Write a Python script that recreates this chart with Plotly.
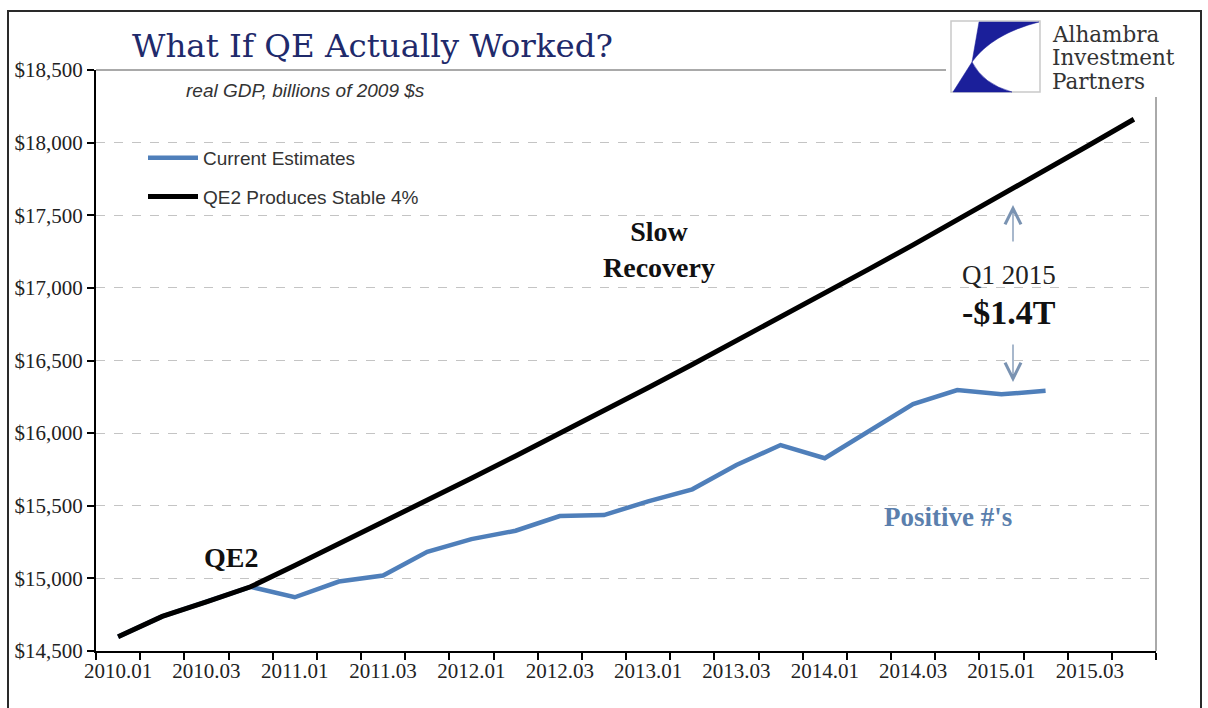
import plotly.graph_objects as go

# Quarterly categories (year.quarter)
quarters = [
    "2010.01", "2010.02", "2010.03", "2010.04",
    "2011.01", "2011.02", "2011.03", "2011.04",
    "2012.01", "2012.02", "2012.03", "2012.04",
    "2013.01", "2013.02", "2013.03", "2013.04",
    "2014.01", "2014.02", "2014.03", "2014.04",
    "2015.01", "2015.02", "2015.03", "2015.04",
]
labelled_quarters = ["2010.01", "2010.03", "2011.01", "2011.03", "2012.01", "2012.03",
                     "2013.01", "2013.03", "2014.01", "2014.03", "2015.01", "2015.03"]

# Real GDP, billions of 2009 dollars
current_estimates = [
    14598, 14738, 14839, 14942,
    14870, 14978, 15020, 15183,
    15270, 15328, 15429, 15436,
    15530, 15613, 15781, 15918,
    15827, 16015, 16200, 16297,
    16267, 16292, None, None,
]
qe2_stable_4pct = [
    14598, 14738, 14839, 14942,
    15089, 15237, 15386, 15537,
    15689, 15843, 15998, 16155,
    16313, 16473, 16635, 16798,
    16962, 17129, 17296, 17466,
    17637, 17810, 17985, 18161,
]
y_ticks = [14500, 15000, 15500, 16000, 16500, 17000, 17500, 18000, 18500]
y_tick_labels = ["$14,500", "$15,000", "$15,500", "$16,000", "$16,500",
                 "$17,000", "$17,500", "$18,000", "$18,500"]

W, H = 1208, 708
L, R, T, B = 96, 1156, 70, 651  # plot area edges in pixels


def px(x):
    return (x - L) / (R - L)


def py(y):
    return (B - y) / (B - T)


SERIF = "Liberation Serif"
BLUE = "#4f7fba"
NAVY = "#1b1f9a"

fig = go.Figure()
fig.add_trace(go.Scatter(
    x=quarters, y=current_estimates, mode="lines", name="Current Estimates",
    line=dict(color=BLUE, width=4.5), legendgroup="a", connectgaps=False,
))
fig.add_trace(go.Scatter(
    x=quarters, y=qe2_stable_4pct, mode="lines", name="QE2 Produces Stable 4%",
    line=dict(color="black", width=5), legendgroup="b",
))

shapes = []
# outer frame
shapes.append(dict(type="rect", xref="paper", yref="paper",
                   x0=px(8), x1=px(1201), y0=py(760), y1=py(11),
                   line=dict(color="#2a2a2a", width=2), fillcolor="rgba(0,0,0,0)", layer="above"))
# plot-area top and right borders
shapes.append(dict(type="line", xref="paper", yref="paper",
                   x0=0, x1=1, y0=1, y1=1, line=dict(color="#555555", width=1), layer="above"))
shapes.append(dict(type="line", xref="paper", yref="paper",
                   x0=1, x1=1, y0=0, y1=1, line=dict(color="#555555", width=1), layer="above"))
# logo backdrop
shapes.append(dict(type="rect", xref="paper", yref="paper",
                   x0=px(946), x1=px(1199), y0=py(97), y1=py(13),
                   line=dict(width=0), fillcolor="white", layer="above"))
# logo box
shapes.append(dict(type="rect", xref="paper", yref="paper",
                   x0=px(951), x1=px(1040), y0=py(92), y1=py(21),
                   line=dict(color="#c9c9c9", width=1.5), fillcolor="white", layer="above"))


def svg_path(cmds):
    out = []
    for c in cmds:
        if c[0] in "ML":
            out.append(f"{c[0]} {px(c[1]):.5f},{py(c[2]):.5f}")
        elif c[0] == "Q":
            out.append(f"Q {px(c[1]):.5f},{py(c[2]):.5f} {px(c[3]):.5f},{py(c[4]):.5f}")
        elif c[0] == "Z":
            out.append("Z")
    return " ".join(out)


upper = svg_path([("M", 979, 22), ("L", 1039, 22), ("Q", 992, 34, 972, 62), ("Z",)])
lower = svg_path([("M", 972, 62), ("Q", 983, 84, 1012, 92), ("L", 953, 92), ("Z",)])
for p in (upper, lower):
    shapes.append(dict(type="path", xref="paper", yref="paper", path=p,
                       fillcolor=NAVY, line=dict(color=NAVY, width=0.5), layer="above"))

annotations = []


def note(text, x, y, size, color="#111111", family=SERIF, xanchor="center", **kw):
    annotations.append(dict(text=text, x=px(x), y=py(y), xref="paper", yref="paper",
                            showarrow=False, xanchor=xanchor, yanchor="middle",
                            font=dict(family=family, size=size, color=color), **kw))


note("<i>real GDP, billions of 2009 $s</i>", 305, 90, 19, color="#333333", family="Liberation Sans")
note("Alhambra", 1050, 34, 21.5, color="#333333", family="DejaVu Serif", xanchor="left")
note("Investment", 1050, 57, 21.5, color="#333333", family="DejaVu Serif", xanchor="left")
note("Partners", 1050, 81, 21.5, color="#333333", family="DejaVu Serif", xanchor="left")
note("<b>QE2</b>", 231, 557, 28)
note("<b>Slow<br>Recovery</b>", 659, 250, 28)
note("<b>Positive #'s</b>", 948, 517, 27, color="#5b7fad")
note("Q1 2015", 1009, 275, 27, color="#222222")
note("<b>-$1.4T</b>", 1009, 312, 34, color="#111111")

ARROW = "#7a93b2"
for tip, off in ((205, 38), (382, -39)):
    annotations.append(dict(text="", x=px(1013), y=py(tip), xref="paper", yref="paper",
                            showarrow=True, ax=0, ay=off, arrowhead=5, arrowsize=2.4,
                            arrowwidth=1.3, arrowcolor=ARROW))

fig.update_layout(
    width=W, height=H,
    margin=dict(l=L, r=W - R, t=T, b=H - B, pad=0, autoexpand=False),
    paper_bgcolor="white", plot_bgcolor="white",
    title=dict(text="What If QE Actually Worked?", xref="container", x=132 / W, xanchor="left",
               yref="container", y=1 - 46 / H, yanchor="middle",
               font=dict(family="DejaVu Serif", size=32.5, color="#1f2a6b")),
    showlegend=True,
    legend=dict(x=px(143), y=py(139), xanchor="left", yanchor="top",
                bgcolor="rgba(0,0,0,0)", traceorder="grouped", tracegroupgap=11,
                itemwidth=50,
                font=dict(family="Liberation Sans", size=19, color="#333333")),
    xaxis=dict(
        type="category", categoryorder="array", categoryarray=quarters,
        range=[-0.5, len(quarters) - 0.5],
        tickmode="array", tickvals=quarters,
        ticktext=[q if q in labelled_quarters else "" for q in quarters],
        tickangle=0, automargin=False,
        tickson="boundaries", ticks="outside", ticklen=7, tickwidth=2, tickcolor="black",
        showline=True, linecolor="black", linewidth=2, showgrid=False, zeroline=False,
        tickfont=dict(family=SERIF, size=21, color="#222222"),
    ),
    yaxis=dict(
        range=[14500, 18500], tickmode="array", tickvals=y_ticks, ticktext=y_tick_labels,
        automargin=False,
        ticks="outside", ticklen=7, tickwidth=2, tickcolor="black",
        showline=True, linecolor="black", linewidth=2, zeroline=False,
        showgrid=True, gridcolor="#c4c4c4", griddash="dash", gridwidth=1,
        tickfont=dict(family=SERIF, size=21, color="#222222"),
    ),
    shapes=shapes,
    annotations=annotations,
)

fig.write_html("out.html")
